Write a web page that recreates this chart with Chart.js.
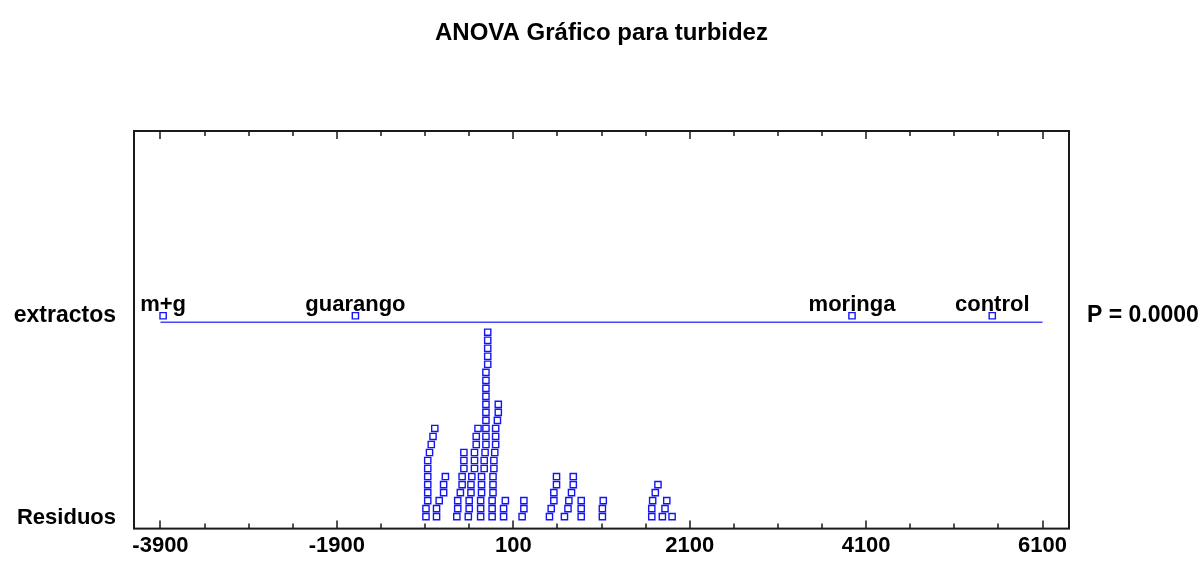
<!DOCTYPE html>
<html>
<head>
<meta charset="utf-8">
<script src="https://cdn.jsdelivr.net/npm/chart.js@4.4.0/dist/chart.umd.min.js"></script>
<style>
  html, body { margin: 0; padding: 0; background: #fff; }
</style>
</head>
<body>
<canvas id="grafico" width="1201" height="563"></canvas>
<script>
const titulo = 'ANOVA Gráfico para turbidez';
const extractos = ['m+g', 'guarango', 'moringa', 'control'];
const medias = [-3870, -1690, 3940, 5530];
const etiquetasEje = [-3900, -1900, 100, 2100, 4100, 6100];
const valorP = 'P = 0.0000';

// residuos apilados, cada columna de abajo hacia arriba
const residuos = [
  [-890, -890, -870, -870, -870, -870, -870, -870, -850, -830, -810, -790],
  [-770, -770, -740, -690, -690, -670],
  [-540, -530, -530, -500, -480, -480, -460, -460, -460],
  [-410, -400, -400, -380, -380, -370, -340, -340, -340, -320, -320, -300],
  [-270, -270, -270, -260, -260, -260, -230, -230, -220, -210, -210, -210,
   -210, -210, -210, -210, -210, -210, -210, -190, -190, -190, -190, -190],
  [-140, -140, -140, -130, -130, -130, -120, -120, -110, -100, -100, -100, -80, -70, -70],
  [-10, -10, 10],
  [200, 220, 220],
  [510, 530, 560, 560, 590, 590],
  [680, 720, 730, 760, 780, 780],
  [870, 870, 870],
  [1110, 1110, 1120],
  [1670, 1670, 1680, 1710, 1740],
  [1790, 1820, 1840],
  [1900]
];

// filas del grafico (en unidades de pila)
const NIVEL_MEDIAS = 25.05;
const NIVEL_LINEA = 24.25;

const FUENTE = '"Liberation Sans", Arial, sans-serif';
const AZUL = '#1414f5';

const puntosResiduos = [];
residuos.forEach(col => col.forEach((v, i) => puntosResiduos.push({ x: v, y: i })));

const puntosMedias = medias.map(v => ({ x: v, y: NIVEL_MEDIAS }));
const lineaExtractos = [
  { x: etiquetasEje[0], y: NIVEL_LINEA },
  { x: etiquetasEje[etiquetasEje.length - 1], y: NIVEL_LINEA }
];

const marco = {
  id: 'marco',
  afterDraw(chart) {
    const { ctx, chartArea: a, scales: { x, y } } = chart;
    ctx.save();
    ctx.strokeStyle = '#1a1a1a';
    ctx.lineWidth = 2;
    ctx.strokeRect(a.left, a.top, a.right - a.left, a.bottom - a.top);

    // marcas: mayores en las etiquetas, menores cada cuarto
    ctx.lineWidth = 1.5;
    ctx.beginPath();
    const paso = (etiquetasEje[1] - etiquetasEje[0]) / 4;
    etiquetasEje.forEach((v0, i) => {
      const n = i === etiquetasEje.length - 1 ? 1 : 4;
      for (let k = 0; k < n; k++) {
        const px = Math.round(x.getPixelForValue(v0 + k * paso));
        const largo = k === 0 ? 8 : 5;
        ctx.moveTo(px, a.bottom); ctx.lineTo(px, a.bottom - largo);
        ctx.moveTo(px, a.top); ctx.lineTo(px, a.top + largo);
      }
    });
    ctx.stroke();

    ctx.fillStyle = '#000';
    ctx.font = 'bold 22px ' + FUENTE;
    ctx.textBaseline = 'alphabetic';
    ctx.textAlign = 'center';
    chart.getDatasetMeta(1).data.forEach((p, i) => {
      ctx.fillText(extractos[i], p.x, p.y - 4.5);
    });

    const yLinea = y.getPixelForValue(NIVEL_LINEA);
    ctx.textAlign = 'right';
    ctx.fillText('Residuos', a.left - 18, y.getPixelForValue(0) + 7.5);
    ctx.font = 'bold 23px ' + FUENTE;
    ctx.fillText('extractos', a.left - 18, yLinea);
    ctx.textAlign = 'left';
    ctx.fillText(valorP, a.right + 18, yLinea);
    ctx.restore();
  }
};

new Chart(document.getElementById('grafico').getContext('2d'), {
  type: 'scatter',
  data: {
    datasets: [
      {
        label: 'Residuos',
        data: puntosResiduos,
        pointStyle: 'rect',
        pointRadius: 4.4,
        borderWidth: 1.4,
        borderColor: AZUL,
        backgroundColor: 'rgba(255,255,255,0)'
      },
      {
        label: 'Medias',
        data: puntosMedias,
        pointStyle: 'rect',
        pointRadius: 4.4,
        borderWidth: 1.4,
        borderColor: AZUL,
        backgroundColor: 'rgba(255,255,255,0)'
      },
      {
        label: 'extractos',
        data: lineaExtractos,
        showLine: true,
        pointRadius: 0,
        borderWidth: 1.5,
        borderColor: '#4646ff'
      }
    ]
  },
  options: {
    responsive: false,
    animation: false,
    devicePixelRatio: 1,
    layout: { padding: { left: 134, right: 132, top: 0, bottom: 0 } },
    plugins: {
      legend: { display: false },
      tooltip: { enabled: false },
      title: {
        display: true,
        text: titulo,
        color: '#000',
        font: { family: FUENTE, size: 24, weight: 'bold' },
        padding: { top: 19, bottom: 83.2 }
      }
    },
    scales: {
      x: {
        type: 'linear',
        min: -4200,
        max: 6400,
        afterBuildTicks: s => { s.ticks = etiquetasEje.map(v => ({ value: v })); },
        ticks: {
          color: '#000',
          font: { family: FUENTE, size: 22, weight: 'bold' },
          padding: 4,
          maxRotation: 0,
          autoSkip: false,
          callback: v => String(v)
        },
        grid: { display: false, drawTicks: false },
        border: { display: false }
      },
      y: {
        display: false,
        min: -1.49,
        max: 48.09
      }
    }
  },
  plugins: [marco]
});
</script>
</body>
</html>
